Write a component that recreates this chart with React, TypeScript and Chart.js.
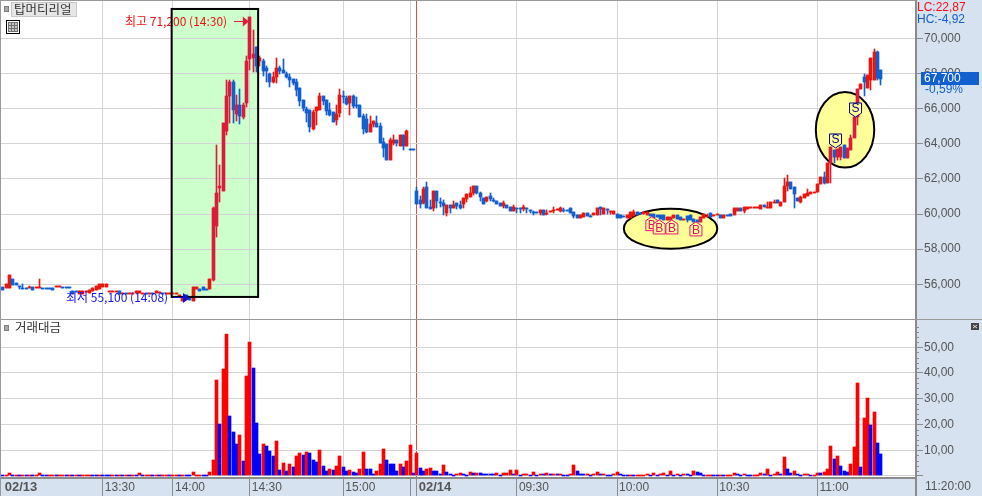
import React, { useEffect, useRef } from "react";
import Chart from "chart.js/auto";

// ---------- data (KRW, one-minute bars): [open, close, high?, low?] ----------
const candlesFeb13Quiet: number[][] = [
  [55870,55680],[55810,56000],[55810,56530],[56300,55960],[56050,55950],[55880,55870,55900,55720],
  [55810,55800,56000,55750],[55810,55800],[55860,55870,55900,55800],[55870,55680],[55850,55860],
  [55850,55860,56300,55810],[55810,55800],[55810,55800,55810,55720],[55810,55800],[55800,55680],
  [55830,55890],[55880,55890],[55820,55810],[55820,55810],[55820,55810],[55620,55450],[55590,55580],
  [55450,55620],[55430,55620],[55590,55600],[55490,55680],[55620,55810],[55700,55920],[55750,56000],
  [55870,56000],[55870,56000],[55590,55600],[55590,55600],[55590,55600],[55620,55450],[55500,55510],
  [55510,55500],[55490,55500],[55490,55500],[55510,55600],[55510,55600],[55520,55530],[55510,55500],
  [55520,55530],[55510,55500],[55510,55600],[55530,55540],[55530,55520],[55510,55520],[55510,55520],
  [55500,55510],[55470,55480],[55260,55380],[55070,55260],[55400,55300],[55300,55100],[55070,55850],
  [55710,55850],[55740,55600],[55850,55680],[55740,55730],[55710,56300],
];
const candlesFeb13Surge: number[][] = [
  [56250,60370,60400,56200],[59300,61200,63900,58700],[61500,61600,62800,60700],[61300,65200],
  [64700,66700,67600,64500],[66700,67500,67600,65200],[67500,65900,67600,65200],[65700,66200,66800,65300],
  [66200,65600,67100,65100],[65500,66200,66300,65400],[66300,68700,69000,66100],[68800,71200,71200,68200],
  [68900,69100,70500,68100],[69500,68400,69500,68100],[68700,68900,69000,68400],
];
const candlesFeb13Fade: number[][] = [
  [68700,68160,68820,67850],[68310,68160,68440,67530],[67970,67530,68000,67250],[67530,67780,68100,67470],
  [67780,68310,68860,67470],[68310,68160,68420,67970],[68200,68040,68820,68000],[67970,67780,68080,67720],
  [67780,67630,67970,67250],[67680,67470,67680,67340],[67510,67060,67680,66730],[67170,66450,67170,66150],
  [66490,66010,66490,65880],[65960,65770,66110,65260],[65920,64930,65920,64690],[64860,65800,65900,64790],
  [65840,66070,66070,65070],[65920,66720,66900,65920],[66720,66450,66720,66200],[66490,65860,66490,65630],
  [65920,65630,66300,65580],[65820,65260],[65350,65690,66200,65070],[65770,66770,67100,65540],
  [66720,66680,67020,66340],[66600,66260,66720,66200],[66300,66720,66720,65630],[66720,66150,66770,66010],
  [66210,66150,66680,66050],[66200,65540],[65580,64840,65690,64550],[65410,64650,65690,64590],
  [64650,65120,65600,64650],[65120,65290,65290,64980],[65160,64930,65580,64930],[65010,64060,65160,64060],
  [64080,63760,64300,63260],[63980,63070],[63070,64210,64300,63070],[64020,64210,64500,63930],
  [64210,64020,64210,63870],[63870,64500],[64500,63870,64500,63640],[63870,64720,64780,63870],
  [63690,63680],[63690,63680],
];
const candlesFeb14Open: number[][] = [
  [61310,60570,61520,60570],[60800,60570,61030,60360],[60650,61420,61560,60570],[61540,60360,61820,60360],
  [60380,60290,60800,60290],[60360,61310,61310,60190],[61310,60760,61310,60360],[60710,60700,60890,60420],
  [60610,60460,60800,59950],[60080,60510,60510,59890],[60510,60360,60510,60040],[60360,60510,60740,60320],
  [60610,60460,60610,60290],[60510,60360,60740,60290],[60570,60890,60890,60360],[60860,61140,61140,60660],
  [60970,61180,61540,60970],[61180,61590,61590,61080],[61590,61210,61590,61130],[61180,60970,61270,60760],
  [60930,60570],[60740,60990,60990,60680],[61020,60840,61180,60740],[60770,60760,60890,60660],
  [60740,60550],[60650,60460],[60460,60610,60740,60360],[60510,60360],[60420,60170],[60170,60420,60510,60170],
  [60370,60360,60370,60080],[60350,60340,60350,60080],[60290,60420,60510,60170],[60350,60340,60350,60080],
  [60200,60190,60200,60080],[60110,60100,60190,59950],[60110,60100],[60040,60230,60230,59950],[60230,59950],
  [60070,60080,60230,59950],[60180,60190],[60220,60230,60380,60040],[60290,60300,60300,60230],
  [60170,60340,60420,60100],[60240,60230,60320,60100],[60240,60230],
];
const candlesFeb14Flat: number[][] = [
  [60320,60080],[60140,59890,60140,59790],[59950,59790],[59790,59930],[59810,60080],[60080,59890],
  [59900,59890,59930,59830],[59950,60040],[59950,60320],[60380,60270,60400,59950],[59980,60320],
  [60270,60250,60270,60000],[60180,60190,60190,60000],[59980,60190],[60000,59790],[59930,59790],
  [59890,59870],[59790,59930],[59790,60100],[59890,60100,60230,59890],[60130,59950],[60050,60040],
  [59980,60100],[59950,60130],[60000,59890],[59980,59790],[59950,59850],[59930,59740],[59930,59660],
  [59660,59850],[59660,59810],[59790,59950],[59950,59720],[59850,59660],[59690,59700],
  [59910,59660,59910,59530],[59930,59660],[59700,59530],[59660,59530],[59570,59850],[59760,59980],
  [59880,59890,60000,59880],[60080,59810],[59940,59950],[59970,59980],[59950,59790],[59790,59950],
  [59960,59950],[59980,59910],[59950,60320],[60190,60320],[60320,60190],[60190,60380,60380,60040],
  [60270,60380],[60370,60380],[60370,60380],[60370,60380,60400,60370],[60300,60495],[60510,60380],
  [60370,60380,60700,60320],[60320,60700],[60690,60700,60800,60600],[60800,60610],[60480,60700],
];
const candlesFeb14Rally: number[][] = [
  [60700,61610,62030,60700],[61610,61800,62220,61300],[61840,61400],[61520,61140,61520,60320],
  [60900,60740],[60700,60990,61030,60650],[60900,61140],[61030,61180,61400,61030],[61140,61270],
  [61180,61270],[61270,61710],[61710,62120],[62090,61750,62410,61700],[61750,62880],
  [62900,63810,63810,61770],[63640,63260,63640,62880],[63260,63700,63700,63070],[63260,63830,63830,63070],
  [63930,63170],[63170,63740],[63640,64310,64500,63640],[64310,65540],[65540,67100,67100,65070],
  [67100,67400],[67820,67490,67970,66720],[67170,67900],[67640,68860,68860,67050],
  [67640,69240,69370,67640],[69240,67720,69300,67640],[68200,67700,68200,67340],
];

// traded value; positive = up bar (red), negative = down bar (blue)
const volumesFeb13Quiet = [-.5,.5,1,-.5,.5,-.5,.5,-.5,.5,-.5,.5,1,-.5,-.5,.5,.5,-.5,.5,.5,-.5,.5,-.5,.5,-.5,.5,.5,.5,-.5,-.5,.5,-.5,-.5,-.5,.5,-.5,.5,-.5,.5,-.5,.5,-.5,1,-.5,.5,.5,-.5,.5,-.5,.5,.5,-.5,.5,.5,-.5,.5,-.5,-.5,1.4,.5,.5,-.5,-.5,1.4];
const volumesFeb13Active = [6.2,37.3,-20.2,41.6,55.1,-23.3,-17.1,-12.4,15.9,-5.8,38.8,52,-41.9,-20.6,-8.5,12.4,-11.6,-9.7,-7.8,13.6,-2.3,5,-1.9,4.7,-3.5,7.8,8.9,-8.2,9.3,-8.9,-6.2,-5.4,10.1,-3.9,-1.9,2.7,-2.3,3.9,7.8,-3.5,-1.9,2.3,-1.6,-1.2,2.7,9.3,-2.7,-2.7,-.8,1.9,4.7,10.5,-6.2,-4.7,-4.7,-1.9,4.7,-3.5,5.8,12,-1.2];
const volumesFeb14Open = [8.9,-3.1,-1.9,2.7,3.1,-1.9,-1.9,-.8,4.3,-1.6,-.8,-.5,.8,1.2,-.8,-.5,1.6,-1.2,1.2,-1.2,-.8,-.8,-.8,-.8,1.2,-.5,1.2,1.2,2.3,-.8,2.3,-.5,.8,.8,-.5,1.6,-.5,.8,-.8,1.2,-.8,.8,-.8,.8,-.5,-.5,.8,4.3,-2,-.8,-.8,.8];
const volumesFeb14Midday = [-.5,.8,1.6,-.8,.8,-.4,-.4,.8,1.6,-.8,-.4,-.4,.4,-.4,.4,.4,.4,.8,-.4,1.2,-.4,.8,1.2,-.4,2,-.4,.8,-.4,.8,-.8,-.4,2,-1.6,-1.2,-.4,.4,.4,-.4,-.4,.4,-.4,.4,.4,1.2,-.8,-.4,.8,-.4,-.4,.4,.4];
const volumesFeb14Rally = [1,-.6,2.6,-.3,.6,1.4,-.6,7.2,-2.6,-1,1.8,-.6,-.3,.6,.6,-.3,.3,1,-1,1.4,2.6,11.5,-6.5,7.6,-3.8,-1.8,-1.4,4.5,11.1,36,-3.4,22.4,30.2,-19.7,24.7,-12.7,-8.4];

const candles = [...candlesFeb13Quiet, ...candlesFeb13Surge, ...candlesFeb13Fade, ...candlesFeb14Open, ...candlesFeb14Flat, ...candlesFeb14Rally];
const volumes = [...volumesFeb13Quiet, ...volumesFeb13Active, ...volumesFeb14Open, ...volumesFeb14Midday, ...volumesFeb14Rally];

const slotCount = 274;
const timeTickIndexes = [0, 30, 51, 74, 102, 122, 124, 154, 184, 214, 244];
const timeTickLabels = ["02/13", "13:30", "14:00", "14:30", "15:00", "", "02/14", "09:30", "10:00", "10:30", "11:00"];
const sessionBreakIndex = 124;
const priceTicks = [56000, 58000, 60000, 62000, 64000, 66000, 68000, 70000];
const volumeTicks = [0, 10, 20, 30, 40, 50];
const accentCandleRanges = [[63, 75], [200, 200], [209, 209], [248, 256]];
const buySignals = [[194.4, 59850], [196.6, 59660], [200.4, 59660], [207.6, 59550]];
const sellSignals = [[249.4, 63760], [255.4, 65520]];

// ---------- styles ----------
const RED = "#e8170f", BLUE = "#125fcf", CRIMSON = "#dc1c3c";
const GRID = "#d4d4d4", AXIS = "#8c8c8c", STRIP = "#d6e2f0", TICK_TEXT = "#555555";
const NUM_FAMILY = "'Liberation Sans',sans-serif";
const NUM_FONT = `12px ${NUM_FAMILY}`;
const KR_FONT = "12px 'Noto Sans CJK KR','Liberation Sans',sans-serif";
const axisWidth = 66;

const labels = Array.from({ length: slotCount }, (_, i) => {
  const at = timeTickIndexes.indexOf(i);
  return at >= 0 ? timeTickLabels[at] : String(i);
});

const isAccent = (i: number) => accentCandleRanges.some(([a, b]) => i >= a && i <= b);
const candleColors = candles.map(([o, c], i) => (c < o ? BLUE : isAccent(i) ? CRIMSON : RED));
const bodies = candles.map(([o, c]) => [o, c]);
const wicks = candles.map(([o, c, h, l]) => [l ?? Math.min(o, c), h ?? Math.max(o, c)]);

// keep bars crisp on device pixels, as the values already went through the scales
const snapBars = {
  id: "snapBars",
  afterDatasetsUpdate(chart: any) {
    chart.getSortedVisibleDatasetMetas().forEach((meta: any) => {
      meta.data.forEach((el: any) => {
        el.x = Math.floor(el.x) + 0.5;
        const y = Math.round(el.y);
        let base = Math.round(el.base);
        if (base === y) base = y + 1;
        el.y = y;
        el.base = base;
      });
    });
  },
};

function text(ctx: any, s: string, x: number, y: number, font: string, color: string) {
  ctx.font = font;
  ctx.fillStyle = color;
  ctx.textAlign = "left";
  ctx.textBaseline = "middle";
  ctx.fillText(s, x, y);
}

function signal(ctx: any, cx: number, y: number, letter: string, pointUp: boolean, stroke: string, ink: string) {
  const hw = 6, h = 14, peak = 4;
  ctx.beginPath();
  if (pointUp) {
    ctx.moveTo(cx, y);
    ctx.lineTo(cx + hw, y + peak);
    ctx.lineTo(cx + hw, y + h);
    ctx.lineTo(cx - hw, y + h);
    ctx.lineTo(cx - hw, y + peak);
  } else {
    ctx.moveTo(cx, y);
    ctx.lineTo(cx + hw, y - peak);
    ctx.lineTo(cx + hw, y - h);
    ctx.lineTo(cx - hw, y - h);
    ctx.lineTo(cx - hw, y - peak);
  }
  ctx.closePath();
  ctx.fillStyle = "#ffff99";
  ctx.fill();
  ctx.lineWidth = 1;
  ctx.strokeStyle = stroke;
  ctx.stroke();
  ctx.font = `12px ${NUM_FAMILY}`;
  ctx.fillStyle = ink;
  ctx.textAlign = "center";
  ctx.textBaseline = "middle";
  ctx.fillText(letter, cx, pointUp ? y + 9 : y - 8);
}

const priceOverlay = {
  id: "priceOverlay",
  beforeDraw(chart: any) {
    const { ctx, width, height, scales: { x, y } } = chart;
    ctx.save();
    ctx.fillStyle = "#ffffff";
    ctx.fillRect(0, 0, width, height);
    ctx.fillStyle = STRIP;
    ctx.fillRect(width - axisWidth, 0, axisWidth, height);
    const l = x.getPixelForValue(50.6), r = x.getPixelForValue(76.5);
    const t = y.getPixelForValue(71670), b = y.getPixelForValue(55280);
    ctx.fillStyle = "#ccffcc";
    ctx.fillRect(l, t, r - l, b - t);
    ctx.restore();
  },
  beforeDatasetsDraw(chart: any) {
    const { ctx, scales: { x, y } } = chart;
    const ellipse = (i0: number, i1: number, p0: number, p1: number) => {
      const l = x.getPixelForValue(i0), r = x.getPixelForValue(i1);
      const t = y.getPixelForValue(p0), b = y.getPixelForValue(p1);
      ctx.beginPath();
      ctx.ellipse((l + r) / 2, (t + b) / 2, (r - l) / 2, (b - t) / 2, 0, 0, Math.PI * 2);
      ctx.fillStyle = "#ffff99";
      ctx.fill();
      ctx.lineWidth = 2;
      ctx.strokeStyle = "#000000";
      ctx.stroke();
    };
    ctx.save();
    ellipse(186, 214, 60300, 58020);
    ellipse(243.5, 261, 66950, 62640);
    ctx.restore();
  },
  afterDatasetsDraw(chart: any) {
    const { ctx, width, scales: { x, y } } = chart;
    ctx.save();
    // high / low annotations
    const hx = x.getPixelForValue(74), hy = 21.5;
    text(ctx, "최고 71,200 (14:30)", 125, 21, KR_FONT, "#f01010");
    ctx.strokeStyle = CRIMSON;
    ctx.lineWidth = 1;
    ctx.beginPath(); ctx.moveTo(234, hy); ctx.lineTo(244, hy); ctx.stroke();
    ctx.fillStyle = CRIMSON;
    ctx.beginPath(); ctx.moveTo(hx - 1, hy); ctx.lineTo(hx - 7, hy - 5); ctx.lineTo(hx - 7, hy + 5); ctx.fill();
    text(ctx, "최저 55,100 (14:08)", 66, 297, KR_FONT, "#1414f0");

    // highlighted window's frame
    const l = x.getPixelForValue(50.6), r = x.getPixelForValue(76.5);
    const t = y.getPixelForValue(71670), b = y.getPixelForValue(55280);
    ctx.strokeStyle = "#000000";
    ctx.lineWidth = 2;
    ctx.strokeRect(l, t, r - l, b - t);

    ctx.strokeStyle = "#1010d0";
    ctx.lineWidth = 1;
    ctx.beginPath(); ctx.moveTo(174, 297.5); ctx.lineTo(184, 297.5); ctx.stroke();
    ctx.fillStyle = "#1010d0";
    ctx.beginPath(); ctx.moveTo(190, 298); ctx.lineTo(183, 293); ctx.lineTo(183, 303); ctx.fill();

    buySignals.forEach(([i, p]) => signal(ctx, x.getPixelForValue(i), y.getPixelForValue(p), "B", true, "#f0107a", "#e0106a"));
    sellSignals.forEach(([i, p]) => signal(ctx, x.getPixelForValue(i), y.getPixelForValue(p), "S", false, "#000080", "#000080"));

    // title chip
    ctx.fillStyle = "#a8a8a8";
    ctx.fillRect(4.5, 6.5, 4, 5);
    ctx.strokeStyle = "#808080";
    ctx.strokeRect(4.5, 6.5, 4, 5);
    ctx.fillStyle = "#e6e6e6";
    ctx.fillRect(11.5, 2.5, 65, 14);
    ctx.strokeStyle = "#c8c8c8";
    ctx.strokeRect(11.5, 2.5, 65, 14);
    text(ctx, "탑머티리얼", 14, 9.5, "12.5px 'Noto Sans CJK KR',sans-serif", "#333333");

    // table icon
    ctx.strokeStyle = "#000000";
    ctx.strokeRect(6.5, 20.5, 13, 13);
    ctx.fillStyle = "#c8c8c8";
    ctx.fillRect(8, 22, 10, 10);
    ctx.strokeStyle = "#707070";
    ctx.strokeRect(8.5, 22.5, 9, 9);
    ctx.beginPath();
    [11.5, 14.5].forEach((v) => { ctx.moveTo(v, 22); ctx.lineTo(v, 32); });
    ctx.moveTo(8, 25.5); ctx.lineTo(18, 25.5);
    ctx.moveTo(8, 28.5); ctx.lineTo(18, 28.5);
    ctx.stroke();

    // right panel readouts
    text(ctx, "LC:22,87", 917, 8, NUM_FONT, "#f01010");
    text(ctx, "HC:-4,92", 917, 20, NUM_FONT, BLUE);
    ctx.fillStyle = BLUE;
    ctx.fillRect(921, 72, 58, 13);
    text(ctx, "67,700", 924, 78.5, NUM_FONT, "#ffffff");
    text(ctx, "-0,59%", 925, 90, NUM_FONT, BLUE);

    // frame
    ctx.fillStyle = "#999999";
    ctx.fillRect(0, 0, width - axisWidth, 1);
    ctx.fillRect(0, 0, 1, chart.height);
    ctx.fillRect(0, chart.height - 1, width, 1);
    ctx.restore();
  },
};

const volumeOverlay = {
  id: "volumeOverlay",
  beforeDraw(chart: any) {
    const { ctx, width, height, chartArea } = chart;
    ctx.save();
    ctx.fillStyle = "#ffffff";
    ctx.fillRect(0, 0, width, height);
    ctx.fillStyle = STRIP;
    ctx.fillRect(width - axisWidth, 0, axisWidth, height);
    ctx.fillRect(0, chartArea.bottom, width, height - chartArea.bottom);
    ctx.restore();
  },
  afterDraw(chart: any) {
    const { ctx, width, height, chartArea, scales: { y } } = chart;
    ctx.save();
    ctx.strokeStyle = AXIS;
    ctx.lineWidth = 1;
    ctx.beginPath();
    for (let v = 2; v <= 58; v += 2) {
      if (v % 10 === 0) continue;
      const py = Math.round(y.getPixelForValue(v)) + 0.5;
      ctx.moveTo(917, py);
      ctx.lineTo(919, py);
    }
    ctx.stroke();

    // axis separator carried down through the time strip
    ctx.fillStyle = AXIS;
    ctx.fillRect(width - axisWidth - 1, chartArea.bottom, 2, height - chartArea.bottom);

    ctx.fillStyle = "#a8a8a8";
    ctx.fillRect(4.5, 5.5, 4, 5);
    ctx.strokeStyle = "#808080";
    ctx.strokeRect(4.5, 5.5, 4, 5);
    text(ctx, "거래대금", 15, 7.5, "12.5px 'Noto Sans CJK KR',sans-serif", "#333333");

    ctx.fillStyle = "#444444";
    ctx.fillRect(971, 3, 8, 7);
    ctx.strokeStyle = "#e0e0e0";
    ctx.beginPath();
    ctx.moveTo(973, 5); ctx.lineTo(977, 8);
    ctx.moveTo(977, 5); ctx.lineTo(973, 8);
    ctx.stroke();

    text(ctx, "11:20:00", 925, 166.5, NUM_FONT, TICK_TEXT);

    ctx.fillStyle = "#999999";
    ctx.fillRect(0, 0, 1, height);
    ctx.restore();
  },
};

const zeroPadding = (scale: any) => {
  scale.paddingTop = 0;
  scale.paddingBottom = 0;
  scale.paddingLeft = 0;
  scale.paddingRight = 0;
};

const commonX = (tickBand: boolean) => ({
  offset: true,
  afterBuildTicks: (scale: any) => {
    scale.ticks = timeTickIndexes.map((value) => ({ value }));
  },
  afterFit: (scale: any) => {
    scale.height = tickBand ? 18 : 0;
    zeroPadding(scale);
  },
  grid: {
    offset: false,
    lineWidth: 1,
    color: (c: any) => (c.tick?.value === 0 ? "transparent" : c.tick?.value === sessionBreakIndex ? "#f04646" : GRID),
    drawTicks: tickBand,
    tickLength: tickBand ? 18 : 0,
    tickColor: (c: any) => (c.tick?.value === 0 ? "transparent" : AXIS),
  },
  border: tickBand ? { display: true, color: AXIS, width: 2 } : { display: false },
  ticks: tickBand
    ? {
        display: true,
        autoSkip: false,
        maxRotation: 0,
        minRotation: 0,
        align: "start",
        labelOffset: 2,
        padding: -16,
        color: TICK_TEXT,
        font: (c: any) =>
          String(c.tick?.label).includes("/")
            ? { family: NUM_FAMILY, size: 13, weight: "bold" }
            : { family: NUM_FAMILY, size: 12 },
        callback: (v: number) => {
          const at = timeTickIndexes.indexOf(v);
          return at >= 0 ? timeTickLabels[at] : "";
        },
      }
    : { display: false },
});

const commonY = (values: number[], format: (v: number) => string) => ({
  position: "right",
  afterBuildTicks: (scale: any) => {
    scale.ticks = values.map((value) => ({ value }));
  },
  afterFit: (scale: any) => {
    scale.width = axisWidth;
    zeroPadding(scale);
  },
  grid: { color: GRID, lineWidth: 1, tickLength: 7, tickColor: AXIS },
  border: { display: true, color: AXIS, width: 2 },
  ticks: {
    autoSkip: false,
    padding: 1,
    color: TICK_TEXT,
    font: { family: NUM_FAMILY, size: 12 },
    callback: (v: number) => format(v),
  },
});

export default function App() {
  const priceRef = useRef<HTMLCanvasElement>(null);
  const volumeRef = useRef<HTMLCanvasElement>(null);

  useEffect(() => {
    const base = {
      animation: false,
      responsive: false,
      devicePixelRatio: 1,
      layout: { autoPadding: false, padding: { left: 1, right: 0, top: 0, bottom: 0 } },
      plugins: { legend: { display: false }, tooltip: { enabled: false } },
    };
    const price = new Chart(priceRef.current!, {
      type: "bar",
      data: {
        labels,
        datasets: [
          { label: "wick", data: wicks, backgroundColor: candleColors, barThickness: 1, grouped: false },
          { label: "body", data: bodies, backgroundColor: candleColors, barThickness: 3, grouped: false },
        ],
      } as any,
      options: {
        ...base,
        scales: {
          x: commonX(false),
          y: { ...commonY(priceTicks, (v) => v.toLocaleString("en-US")), min: 53967, max: 72180 },
        },
      } as any,
      plugins: [snapBars, priceOverlay],
    });
    const volume = new Chart(volumeRef.current!, {
      type: "bar",
      data: {
        labels,
        datasets: [
          {
            label: "거래대금",
            data: volumes.map(Math.abs),
            backgroundColor: volumes.map((v) => (v > 0 ? "#ff0000" : "#0000ff")),
            barThickness: 3,
          },
        ],
      } as any,
      options: {
        ...base,
        scales: {
          x: commonX(true),
          y: { ...commonY(volumeTicks, (v) => (v === 0 ? "" : `${v},00`)), min: -0.78, max: 60.58 },
        },
      } as any,
      plugins: [snapBars, volumeOverlay],
    });
    return () => {
      price.destroy();
      volume.destroy();
    };
  }, []);

  return (
    <div style={{ position: "absolute", left: 0, top: 0, width: 982, height: 496, overflow: "hidden", background: "#fff" }}>
      <canvas ref={priceRef} width={982} height={320} style={{ position: "absolute", left: 0, top: 0, display: "block" }} />
      <canvas ref={volumeRef} width={982} height={176} style={{ position: "absolute", left: 0, top: 320, display: "block" }} />
    </div>
  );
}
